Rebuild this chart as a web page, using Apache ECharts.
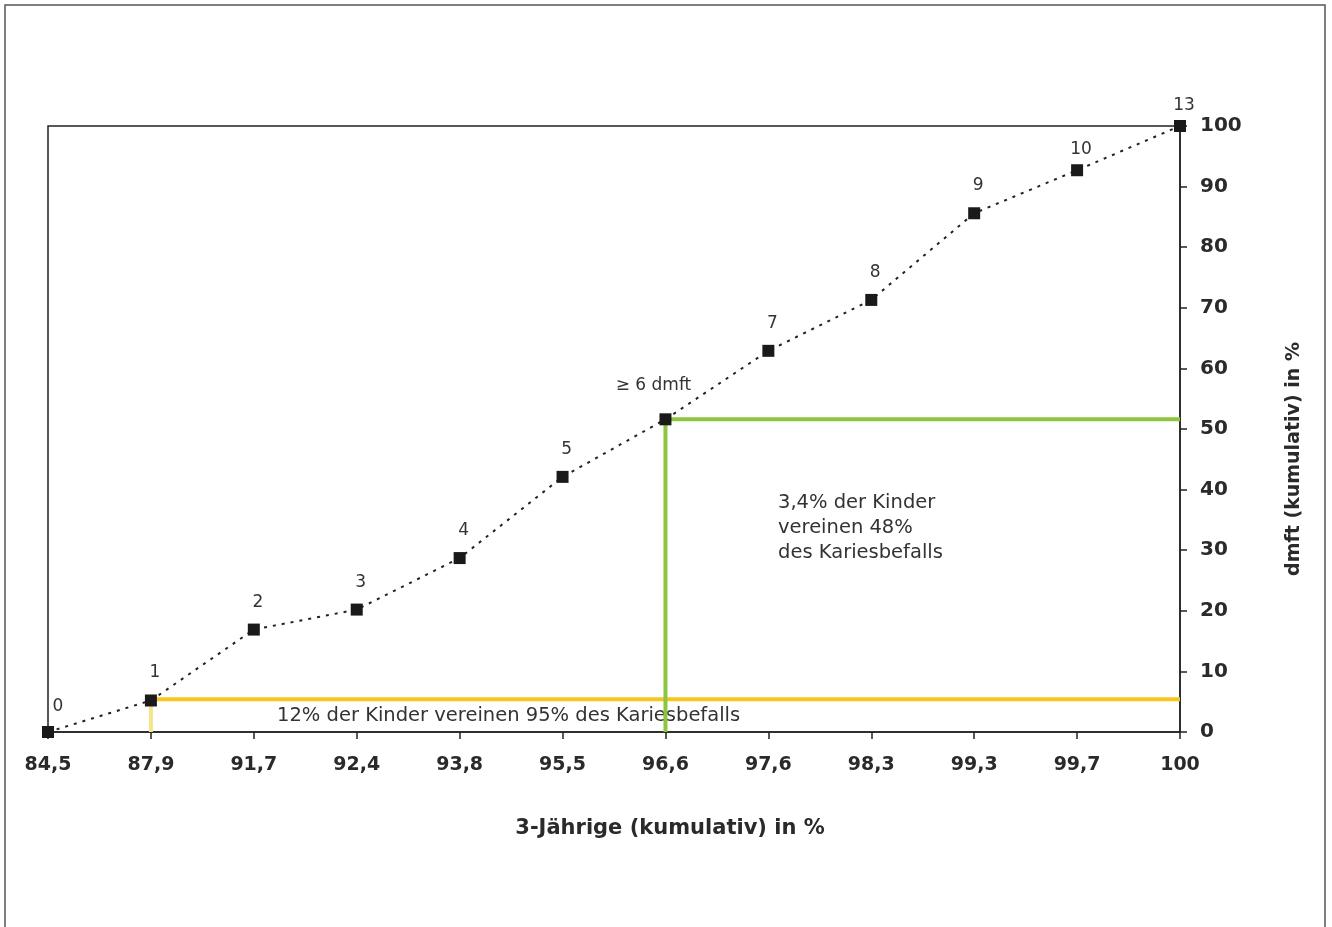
<!DOCTYPE html>
<html><head><meta charset="utf-8">
<script src="https://cdn.jsdelivr.net/npm/echarts@6/dist/echarts.min.js"></script>
<style>html,body{margin:0;padding:0;background:#fff}#c{width:1332px;height:927px}</style>
</head><body><div id="c"></div>
<script>
const categories = ['84,5','87,9','91,7','92,4','93,8','95,5','96,6','97,6','98,3','99,3','99,7','100'];
const dmftCum = [0, 5.2, 16.9, 20.2, 28.7, 42.1, 51.6, 62.9, 71.3, 85.6, 92.7, 100];
const pointLabels = ['0','1','2','3','4','5','\u2265 6 dmft','7','8','9','10','13'];
const yTicks = {min: 0, max: 100, interval: 10};
const greenLine = [['96,6', 0], ['96,6', 51.6], ['100', 51.6]];
const yellowH = [['87,9', 5.4], ['100', 5.4]];
const yellowV = [['87,9', 0], ['87,9', 5.4]];
const noteBottom = '12% der Kinder vereinen 95% des Kariesbefalls';
const noteRight = '3,4% der Kinder\nvereinen 48%\ndes Kariesbefalls';
const xName = '3-J\u00e4hrige (kumulativ) in %';
const yName = 'dmft (kumulativ) in %';

const FONT = '"DejaVu Sans", Verdana, sans-serif';
const chart = echarts.init(document.getElementById('c'));
chart.setOption({
  animation: false,
  backgroundColor: '#fff',
  textStyle: {fontFamily: FONT},
  grid: {left: 48, right: 152, top: 126, bottom: 195, show: true, borderColor: '#222', borderWidth: 1.5, backgroundColor: 'transparent'},
  xAxis: {
    type: 'category', data: categories, boundaryGap: false,
    axisLine: {lineStyle: {color: '#222', width: 1.5}},
    axisTick: {show: true, alignWithLabel: true, length: 7, lineStyle: {color: '#222', width: 1.5}},
    axisLabel: {color: '#2a2a2a', fontSize: 19, fontWeight: 'bold', margin: 24, fontFamily: FONT},
    splitLine: {show: false}
  },
  yAxis: {
    type: 'value', position: 'right', min: yTicks.min, max: yTicks.max, interval: yTicks.interval,
    axisLine: {show: true, lineStyle: {color: '#222', width: 1.5}},
    axisTick: {show: true, length: 7, lineStyle: {color: '#222', width: 1.5}},
    axisLabel: {color: '#2a2a2a', fontSize: 20, fontWeight: 'bold', margin: 20, fontFamily: FONT},
    splitLine: {show: false}
  },
  graphic: [
    {type: 'rect', shape: {x: 5, y: 5, width: 1320, height: 940}, style: {fill: 'none', stroke: '#555', lineWidth: 1.5}, silent: true},
    {type: 'text', left: 277, top: 706, style: {text: noteBottom, fontSize: 19.5, fill: '#333', fontFamily: FONT}},
    {type: 'text', left: 778, top: 490, style: {text: noteRight, fontSize: 19.5, lineHeight: 25, fill: '#333', fontFamily: FONT}},
    {type: 'text', x: 670, y: 829, style: {text: xName, fontSize: 21, fontWeight: 'bold', fill: '#2a2a2a', fontFamily: FONT, align: 'center', verticalAlign: 'middle'}},
    {type: 'text', x: 1294, y: 459, rotation: Math.PI / 2, style: {text: yName, fontSize: 19, fontWeight: 'bold', fill: '#2a2a2a', fontFamily: FONT, align: 'center', verticalAlign: 'middle'}}
  ],
  series: [
    {type: 'line', data: yellowV, symbol: 'none', lineStyle: {color: '#f3e58a', width: 4}, z: 2},
    {type: 'line', data: yellowH, symbol: 'none', lineStyle: {color: '#f7c51e', width: 4}, z: 2},
    {type: 'line', data: greenLine, symbol: 'none', lineStyle: {color: '#8cc63e', width: 4}, z: 2},
    {
      type: 'line', data: dmftCum, z: 5,
      symbol: 'rect', symbolSize: 12, itemStyle: {color: '#1a1a1a'},
      lineStyle: {color: '#222', width: 2, type: [3, 6]},
      label: {
        show: true, position: 'top', distance: 13, color: '#333', fontSize: 17, fontFamily: FONT,
        formatter: p => pointLabels[p.dataIndex]
      },
      labelLayout: p => {
        if (p.dataIndex === 0) return {dx: 10, dy: 2};
        if (p.dataIndex === 6) return {dx: -12, dy: -6};
        if (p.dataIndex >= 10) return {dx: 4, dy: 7};
        return {dx: 4};
      }
    }
  ]
});
</script></body></html>
